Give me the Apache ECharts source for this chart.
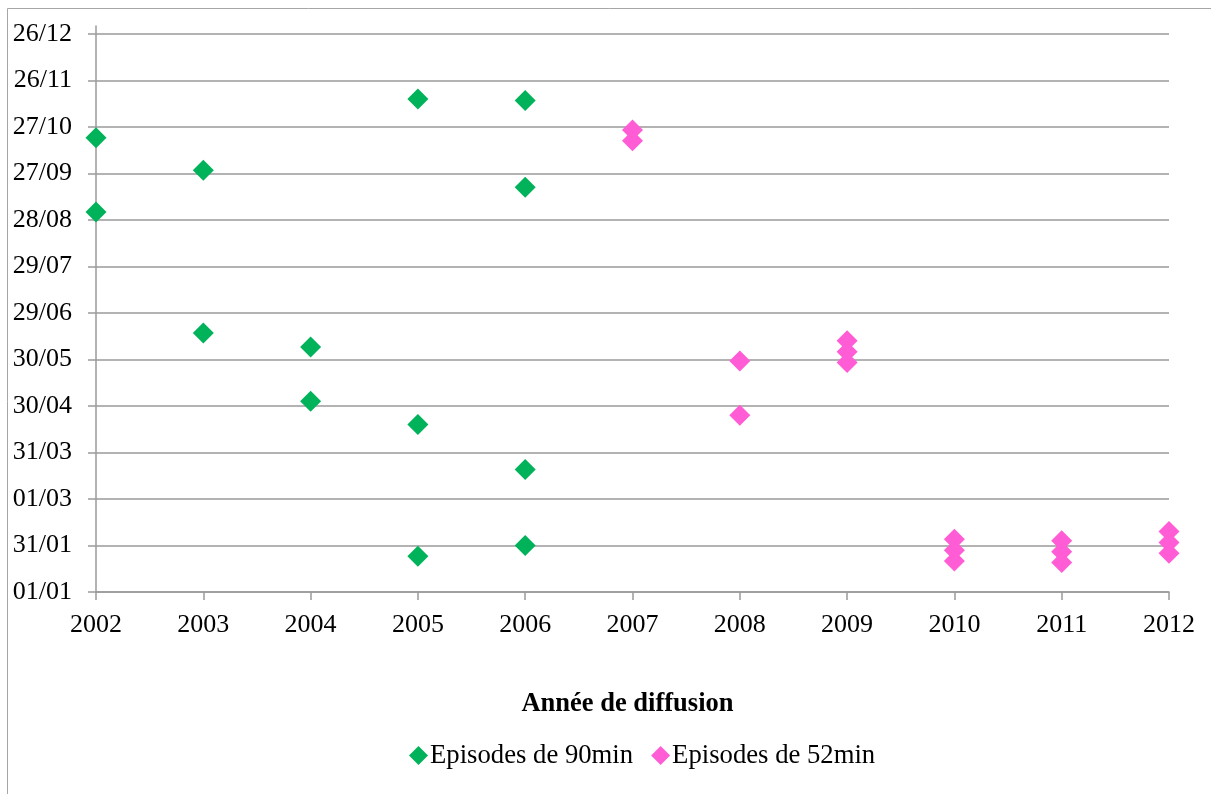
<!DOCTYPE html>
<html>
<head>
<meta charset="utf-8">
<script src="https://cdn.jsdelivr.net/npm/echarts@6/dist/echarts.min.js"></script>
<style>
  html, body { margin: 0; padding: 0; background: #ffffff; }
  #chart { width: 1211px; height: 794px; }
</style>
</head>
<body>
<div id="chart"></div>
<script>
// Y tick labels (day offset from 1 January, every 30 days)
const yTickValues = [0, 30, 60, 90, 120, 150, 180, 210, 240, 270, 300, 330, 360];
const yTickLabels = ['01/01', '31/01', '01/03', '31/03', '30/04', '30/05', '29/06', '29/07', '28/08', '27/09', '27/10', '26/11', '26/12'];
const xYears = [2002, 2003, 2004, 2005, 2006, 2007, 2008, 2009, 2010, 2011, 2012];

// Episodes de 90min : year, day of year (offset from 01/01)
const years90 = [2002, 2002, 2003, 2003, 2004, 2004, 2005, 2005, 2005, 2006, 2006, 2006, 2006];
const days90  = [293, 245, 272, 167, 158, 123, 318, 108, 23, 317, 261, 79, 30];

// Episodes de 52min
const years52 = [2007, 2007, 2008, 2008, 2009, 2009, 2009, 2010, 2010, 2010, 2011, 2011, 2011, 2012, 2012, 2012];
const days52  = [298, 291, 149, 114, 162, 155, 148, 34, 27, 20, 33, 26, 19, 39, 32, 25];

const seriesNames = ['Episodes de 90min', 'Episodes de 52min'];

const pair = (xs, ys) => xs.map((x, i) => [x, ys[i]]);

const FONT = '"Liberation Serif", "Times New Roman", serif';
const GRID_COLOR = '#9a9a9a';

const chart = echarts.init(document.getElementById('chart'), null, { renderer: 'canvas' });

chart.setOption({
  backgroundColor: '#ffffff',
  animation: false,
  graphic: [{
    type: 'rect',
    shape: { x: 7.5, y: 8.5, width: 1400, height: 1000 },
    style: { fill: 'none', stroke: '#a6a6a6', lineWidth: 1 },
    silent: true,
    z: -10
  }],
  grid: { left: 96, right: 42, top: 26, bottom: 202, containLabel: false },
  legend: {
    left: 409,
    top: 742,
    padding: 0,
    itemWidth: 19,
    itemHeight: 19,
    itemGap: 18,
    icon: 'diamond',
    textStyle: { fontFamily: FONT, fontSize: 26.7, color: '#000', padding: [0, 0, 0, -3] },
    data: seriesNames
  },
  xAxis: {
    type: 'value',
    min: xYears[0],
    max: xYears[xYears.length - 1],
    interval: 1,
    name: 'Année de diffusion',
    nameLocation: 'middle',
    nameGap: 99,
    nameTextStyle: { fontFamily: FONT, fontSize: 26.5, fontWeight: 'bold', color: '#000', padding: [0, 10, 0, 0] },
    axisLine: { show: true, lineStyle: { color: GRID_COLOR, width: 1.5 } },
    axisTick: { show: true, length: 8, lineStyle: { color: GRID_COLOR, width: 1.5 } },
    axisLabel: { fontFamily: FONT, fontSize: 26, color: '#000', margin: 20, formatter: v => String(v) },
    splitLine: { show: false }
  },
  yAxis: {
    type: 'value',
    min: 0,
    max: 365,
    interval: 30,
    axisLine: { show: true, lineStyle: { color: GRID_COLOR, width: 1.5 } },
    axisTick: { show: true, length: 8, customValues: yTickValues, lineStyle: { color: GRID_COLOR, width: 1.5 } },
    axisLabel: {
      fontFamily: FONT, fontSize: 26, color: '#000', margin: 24,
      padding: [6, 0, 0, 0],
      customValues: yTickValues,
      formatter: v => { const i = yTickValues.indexOf(v); return i >= 0 ? yTickLabels[i] : ''; }
    },
    splitLine: { show: true, lineStyle: { color: GRID_COLOR, width: 1.5 } }
  },
  series: [
    {
      name: seriesNames[0],
      type: 'scatter',
      symbol: 'diamond',
      symbolSize: 21,
      itemStyle: { color: '#00B35A', opacity: 1 },
      data: pair(years90, days90)
    },
    {
      name: seriesNames[1],
      type: 'scatter',
      symbol: 'diamond',
      symbolSize: 21,
      itemStyle: { color: '#FF5CD6', opacity: 1 },
      data: pair(years52, days52)
    }
  ]
});
</script>
</body>
</html>
